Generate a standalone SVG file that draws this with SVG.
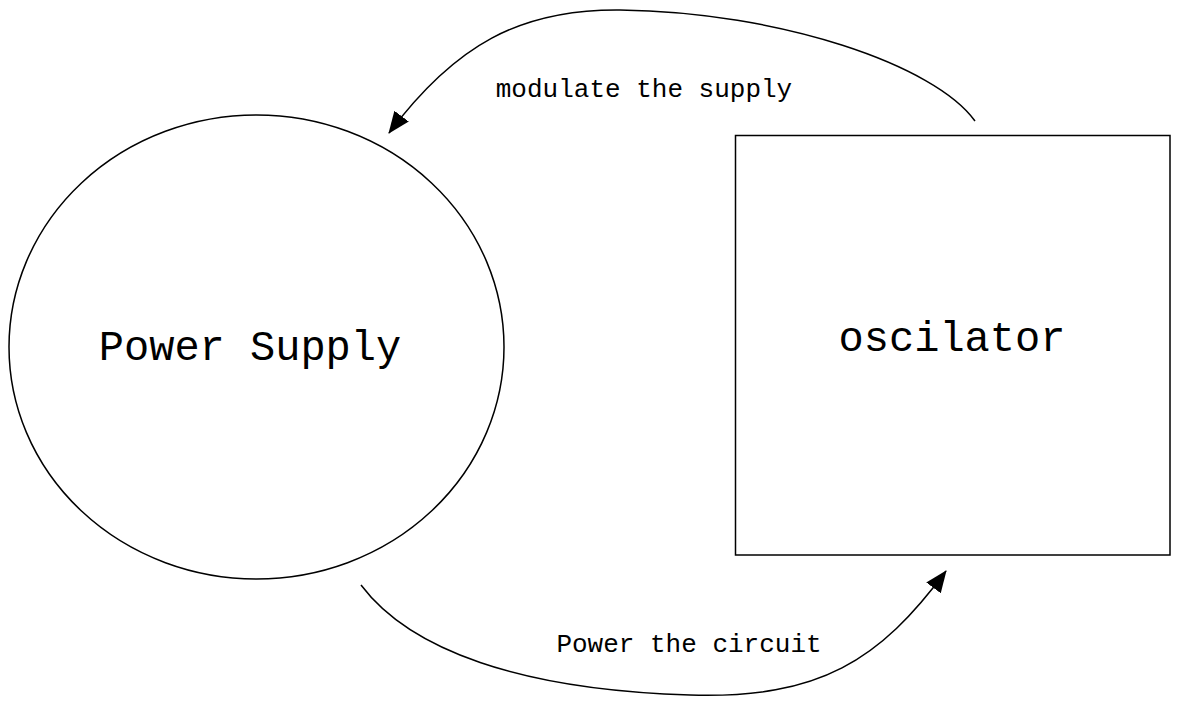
<svg xmlns="http://www.w3.org/2000/svg" width="1179" height="705" viewBox="0 0 1179 705">
<style>
.shape{fill:#fff;stroke:#000;stroke-width:1.5}
.edge{fill:none;stroke:#000;stroke-width:1.5}
.nl{font-family:"Liberation Mono",monospace;font-size:42px;fill:#000;text-anchor:middle}
.el{font-family:"Liberation Mono",monospace;font-size:26px;fill:#000;text-anchor:middle}
</style>
<defs>
<marker id="arr" viewBox="0 0 22 20" refX="21" refY="10" markerWidth="22" markerHeight="20" markerUnits="userSpaceOnUse" orient="auto">
<path d="M0,1 L22,10 L0,19 z" fill="#000"/>
</marker>
</defs>
<rect width="1179" height="705" fill="#fff"/>
<g id="connectors">
<g id="e1">
<path class="edge" d="M975,121 C935,65 780,12 620,10 C520,9 455,45 389,133" marker-end="url(#arr)"/>
<text class="el" x="644" y="97">modulate the supply</text>
</g>
<g id="e2">
<path class="edge" d="M361,585 C410,650 520,690 690,695 C820,699 880,660 946,571" marker-end="url(#arr)"/>
<text class="el" x="689" y="652">Power the circuit</text>
</g>
</g>
<g id="power">
<ellipse class="shape" cx="256.5" cy="347" rx="247.5" ry="232"/>
<text class="nl" x="250" y="360">Power Supply</text>
</g>
<g id="osc">
<rect class="shape" x="735.5" y="135.5" width="434.5" height="419.5"/>
<text class="nl" x="952" y="351">oscilator</text>
</g>
</svg>
